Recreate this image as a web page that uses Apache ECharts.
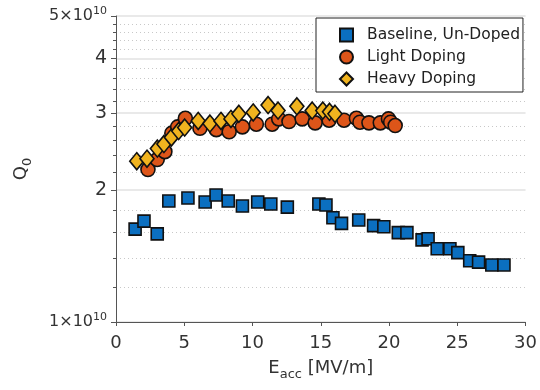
<!DOCTYPE html>
<html>
<head>
<meta charset="utf-8">
<script src="https://cdn.jsdelivr.net/npm/echarts@6/dist/echarts.min.js"></script>
<style>
  html, body { margin: 0; padding: 0; background: #fff; }
  #chart { width: 540px; height: 390px; }
</style>
</head>
<body>
<div id="chart"></div>
<script>
// Eacc in MV/m, Q0 in units of 1e10
const baselineE = [1.40, 2.05, 3.02, 3.87, 5.27, 6.53, 7.33, 8.22, 9.26, 10.38, 11.34, 12.55, 14.86, 15.38, 15.89,
  16.52, 17.78, 18.87, 19.62, 20.68, 21.31, 22.42, 22.86, 23.53, 24.46, 25.04, 25.91, 26.56, 27.53, 28.42];
const baselineQ = [1.63, 1.70, 1.59, 1.89, 1.92, 1.88, 1.95, 1.89, 1.84, 1.88, 1.86, 1.83, 1.86, 1.85, 1.73,
  1.68, 1.71, 1.66, 1.65, 1.60, 1.60, 1.54, 1.55, 1.47, 1.47, 1.44, 1.38, 1.37, 1.35, 1.35];

const lightE = [2.34, 3.02, 3.58, 4.09, 4.52, 5.08, 6.15, 7.35, 8.29, 9.26, 10.28, 11.44, 11.92, 12.67, 13.64,
  14.59, 15.61, 16.70, 17.61, 17.87, 18.53, 19.36, 19.96, 20.12, 20.45];
const lightQ = [2.23, 2.35, 2.45, 2.70, 2.79, 2.92, 2.77, 2.75, 2.72, 2.79, 2.83, 2.83, 2.91, 2.87, 2.91,
  2.85, 2.89, 2.89, 2.92, 2.86, 2.85, 2.85, 2.91, 2.86, 2.81];

const heavyE = [1.52, 2.27, 3.03, 3.51, 4.06, 4.59, 5.03, 6.02, 6.88, 7.69, 8.42, 9.00, 10.05, 11.14, 11.87,
  13.25, 14.37, 15.15, 15.64, 16.04];
const heavyQ = [2.33, 2.36, 2.49, 2.55, 2.64, 2.73, 2.78, 2.88, 2.84, 2.88, 2.91, 2.99, 3.01, 3.13, 3.04,
  3.11, 3.04, 3.04, 3.02, 2.99];

const seriesNames = ["Baseline, Un-Doped", "Light Doping", "Heavy Doping"];
const yMajorTicks = [1, 2, 3, 4, 5];
const yMinorTicks = [1.2, 1.4, 1.6, 1.8, 2.2, 2.4, 2.6, 2.8, 3.2, 3.4, 3.6, 3.8, 4.2, 4.4, 4.6, 4.8];

const font = "DejaVu Sans";
const axisColor = "#555";
const textColor = "#333";

const chart = echarts.init(document.getElementById("chart"));

function pairs(xs, ys) {
  return xs.map((x, i) => [x, ys[i]]);
}

// 1 和 5 显示为 n×10^10，其它只显示数字
function yLabel(v) {
  const n = Math.round(v);
  if (n === 1 || n === 5) return "{m|" + n + "×10}{s|10}";
  return "{b|" + n + "}";
}

const option = {
  animation: false,
  grid: { left: 116, right: 11, top: 16, bottom: 68 },
  xAxis: {
    type: "value",
    min: 0,
    max: 30,
    interval: 5,
    name: "{e|E}{sub|acc}{e| [MV/m]}",
    nameLocation: "middle",
    nameGap: 34,
    nameTextStyle: {
      rich: {
        e: { fontFamily: font, fontSize: 18, color: textColor },
        sub: { fontFamily: font, fontSize: 13, color: textColor, padding: [12, 0, 0, 0] }
      }
    },
    axisLine: { lineStyle: { color: axisColor, width: 1 } },
    axisTick: { length: 4, lineStyle: { color: axisColor } },
    axisLabel: { margin: 12, fontFamily: font, fontSize: 18, color: textColor },
    splitLine: { show: false }
  },
  yAxis: [
    {
      type: "log",
      logBase: 10,
      min: 1,
      max: 5,
      position: "left",
      name: "{q|Q}{sub|0}",
      nameLocation: "middle",
      nameGap: 82,
      nameRotate: 90,
      nameTextStyle: {
        rich: {
          q: { fontFamily: font, fontSize: 18, color: textColor },
          sub: { fontFamily: font, fontSize: 13, color: textColor, padding: [12, 0, 0, 0] }
        }
      },
      axisLine: { show: true, lineStyle: { color: axisColor, width: 1 } },
      axisTick: { show: true, length: 5, customValues: yMajorTicks, lineStyle: { color: axisColor } },
      axisLabel: {
        customValues: yMajorTicks,
        margin: 9,
        formatter: yLabel,
        rich: {
          b: { fontFamily: font, fontSize: 19, color: textColor },
          m: { fontFamily: font, fontSize: 16, color: textColor },
          s: { fontFamily: font, fontSize: 11, color: textColor, padding: [0, 0, 10, 0] }
        }
      },
      splitLine: { show: true, lineStyle: { color: "#e2e2e2", width: 1.5 } }
    },
    {
      // 次刻度和点状网格线
      type: "log",
      logBase: 10,
      min: 1,
      max: 5,
      position: "left",
      axisLine: { show: false },
      axisTick: { show: true, length: 3, customValues: yMinorTicks, lineStyle: { color: axisColor } },
      axisLabel: { show: false },
      splitLine: { show: true, lineStyle: { color: "#c8c8c8", width: 1, type: [1, 3] } }
    }
  ],
  legend: {
    orient: "vertical",
    left: 316,
    top: 18,
    padding: [9, 3, 5, 23],
    itemGap: 6,
    itemWidth: 13,
    itemHeight: 13,
    backgroundColor: "#fff",
    borderColor: "#222",
    borderWidth: 1,
    borderRadius: 0,
    textStyle: { fontFamily: font, fontSize: 15.5, lineHeight: 15, color: "#222", padding: [0, 0, 0, 9] },
    data: seriesNames
  },
  series: [
    {
      name: seriesNames[0],
      type: "scatter",
      symbol: "rect",
      symbolSize: 12,
      data: pairs(baselineE, baselineQ),
      itemStyle: { color: "#0b6fc0", borderColor: "#111", borderWidth: 1.6, opacity: 1 }
    },
    {
      name: seriesNames[1],
      type: "scatter",
      symbol: "circle",
      symbolSize: 14,
      data: pairs(lightE, lightQ),
      itemStyle: { color: "#dd5519", borderColor: "#111", borderWidth: 1.6, opacity: 1 }
    },
    {
      name: seriesNames[2],
      type: "scatter",
      symbol: "diamond",
      symbolSize: [14, 17],
      data: pairs(heavyE, heavyQ),
      itemStyle: { color: "#f0b31f", borderColor: "#111", borderWidth: 1.6, opacity: 1 }
    }
  ]
};

chart.setOption(option);
</script>
</body>
</html>
